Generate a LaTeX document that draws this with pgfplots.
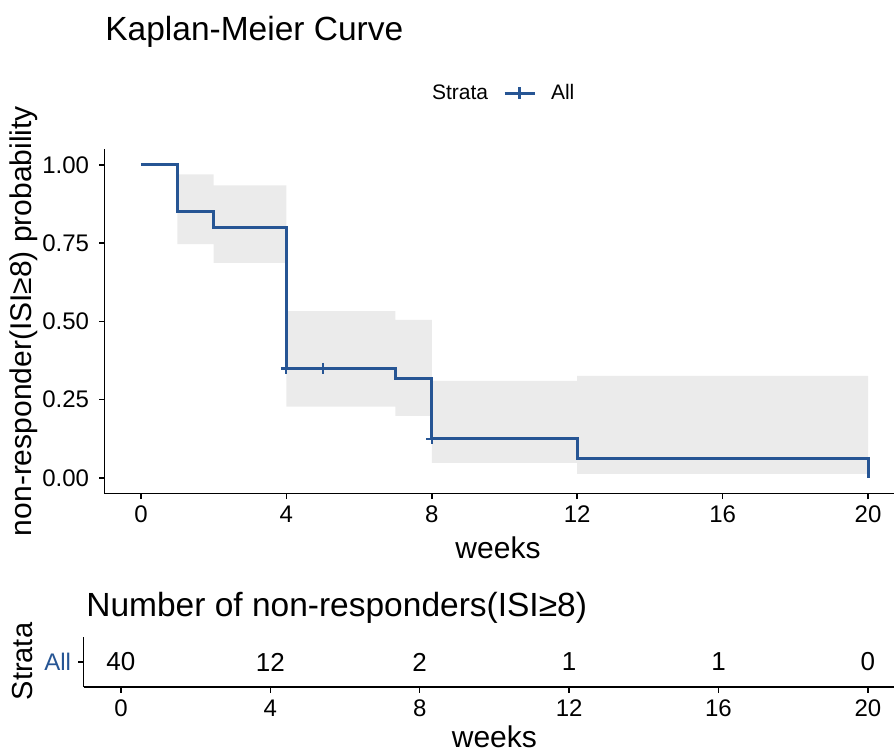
\documentclass[border=0pt]{standalone}
\usepackage{fontspec}
\setmainfont{Liberation Sans}
\usepackage{pgfplots}
\pgfplotsset{compat=1.18}
\definecolor{kmblue}{RGB}{38,85,148}
\definecolor{bandgrey}{RGB}{235,235,235}
\newcommand{\fs}[1]{\fontsize{#1}{#1}\selectfont}

\begin{document}
\begin{tikzpicture}
\path[use as bounding box] (0pt,0pt) rectangle (447pt,-375.5pt);
% ---------------- KM curve ----------------
\begin{axis}[
  at={(52.3pt,-246.8pt)}, anchor=south west,
  scale only axis, width=394.7pt, height=172.15pt,
  xmin=-1, xmax=20.715, ymin=-0.05, ymax=1.05,
  axis lines=left, axis line style={-, line width=0.75pt},
  tick align=outside, major tick length=2.75pt,
  tick style={black, line width=0.75pt},
  xtick={0,4,8,12,16,20}, xticklabels={0,4,8,12,16,20},
  ytick={0,0.25,0.5,0.75,1}, yticklabels={0.00,0.25,0.50,0.75,1.00},
  ticklabel style={font=\fs{12}},
  yticklabel style={xshift=-1.5pt},
  /pgf/number format/assume math mode=true,
  legend style={at={(0.498,1.163)}, anchor=center, draw=none, fill=none,
    legend columns=-1, font=\fs{10.5},
    /tikz/every even column/.append style={column sep=5.5pt},
    /tikz/every odd column/.append style={column sep=5.5pt}},
  legend cell align=left,
]
\addlegendimage{empty legend}
\addlegendentry{Strata}
\addplot[fill=bandgrey, draw=none, forget plot] coordinates {
  (1,0.970) (2,0.970) (2,0.935) (4,0.935) (4,0.533) (7,0.533) (7,0.505) (8,0.505)
  (8,0.310) (12,0.310) (12,0.326) (20,0.326)
  (20,0.013) (12,0.013) (12,0.048) (8,0.048) (8,0.198) (7,0.198) (7,0.228) (4,0.228)
  (4,0.687) (2,0.687) (2,0.747) (1,0.747)} --cycle;
\addplot[const plot, kmblue, line width=1.5pt, mark=none,
  legend image code/.code={
    \draw[kmblue, line width=1.5pt] (0pt,0pt) -- (15pt,0pt);
    \draw[kmblue, line width=1.1pt] (7.5pt,-3pt) -- (7.5pt,3pt);}]
  coordinates {(0,1) (1,0.85) (2,0.80) (4,0.35) (7,0.318) (8,0.125) (12,0.0625) (20,0)};
\addlegendentry{All}
\addplot[only marks, mark=+, mark size=2.8pt, kmblue, line width=1.1pt, forget plot]
  coordinates {(4,0.35) (5,0.35) (8,0.125)};
\end{axis}
% ---------------- risk table ----------------
\begin{axis}[
  at={(41.8pt,-343.5pt)}, anchor=south west,
  scale only axis, width=405.2pt, height=25pt,
  xmin=-1, xmax=20.70, ymin=0.4, ymax=1.6,
  axis lines=left, axis line style={-, line width=0.75pt},
  tick align=outside, major tick length=2.75pt,
  tick style={black, line width=0.75pt},
  xtick={0,4,8,12,16,20}, xticklabels={0,4,8,12,16,20},
  ytick={1}, yticklabels={All},
  ticklabel style={font=\fs{12}},
  yticklabel style={text=kmblue},
]
\addplot[draw=none, mark=none, nodes near coords, point meta=explicit symbolic,
  every node near coord/.append style={anchor=center, font=\fs{13}, text=black}]
  table[meta=n] {
x y n
0 1 40
4 1 12
8 1 2
12 1 1
16 1 1
20 1 0
};
\end{axis}
% ---------------- titles and axis titles ----------------
\node[anchor=base west, inner sep=0pt, font=\fs{16.75}] at (52.5pt,-20pt) {Kaplan-Meier Curve};
\node[rotate=90, anchor=center, inner sep=0pt, font=\fs{15}] at (12pt,-160.5pt) {non-responder(ISI≥8) probability};
\node[anchor=base, inner sep=0pt, font=\fs{15}] at (249pt,-279pt) {weeks};
\node[anchor=base west, inner sep=0pt, font=\fs{16.75}] at (43pt,-308pt) {Number of non-responders(ISI≥8)};
\node[rotate=90, anchor=center, inner sep=0pt, font=\fs{14.5}] at (11.25pt,-330.75pt) {Strata};
\node[anchor=base, inner sep=0pt, font=\fs{15}] at (247.2pt,-373.5pt) {weeks};
\end{tikzpicture}
\end{document}
